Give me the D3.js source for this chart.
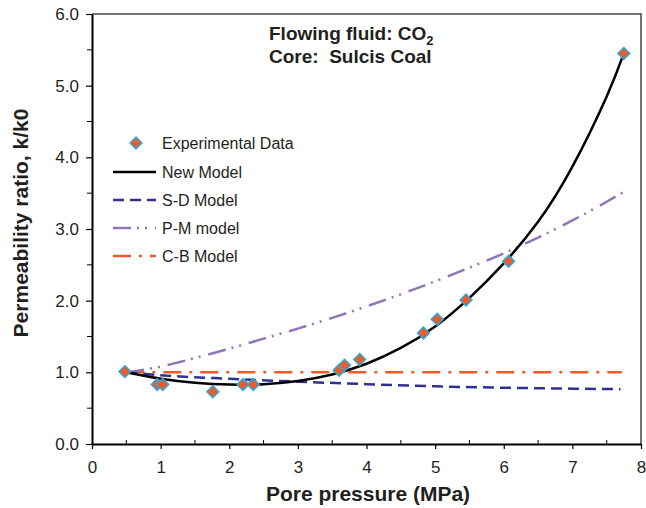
<!DOCTYPE html>
<html>
<head>
<meta charset="utf-8">
<script src="https://cdn.jsdelivr.net/npm/d3@7/dist/d3.min.js"></script>
<style>
  html, body { margin: 0; padding: 0; background: #fff; }
  svg { display: block; font-family: "Liberation Sans", Arial, sans-serif; }
</style>
</head>
<body>
<svg id="chart" width="646" height="508"></svg>
<script>
// Measured permeability ratio vs pore pressure (CO2, Sulcis coal)
const expPressure = [0.48, 0.95, 1.03, 1.76, 2.2, 2.35, 3.6, 3.68, 3.9, 4.83, 5.03, 5.45, 6.07, 7.75];
const expRatio    = [1.01, 0.83, 0.83, 0.73, 0.83, 0.83, 1.03, 1.10, 1.18, 1.55, 1.74, 2.01, 2.55, 5.45];

// Model curves, sampled along pore pressure
const newModelP = [0.5, 1.0, 1.5, 2.0, 2.5, 3.0, 3.5, 4.0, 4.5, 5.0, 5.5, 6.0, 6.5, 7.0, 7.5, 7.75];
const newModelK = [1.0, 0.91, 0.855, 0.83, 0.835, 0.88, 0.97, 1.12, 1.34, 1.64, 2.04, 2.52, 3.1, 3.87, 4.85, 5.45];

const sdModelP = [0.5, 1.0, 2.0, 3.0, 4.0, 5.0, 6.0, 7.0, 7.7];
const sdModelK = [1.0, 0.96, 0.91, 0.87, 0.835, 0.805, 0.785, 0.772, 0.765];

const pmModelP = [0.5, 1.0, 1.5, 2.0, 2.5, 3.0, 3.5, 4.0, 4.5, 5.0, 5.5, 6.0, 6.5, 7.0, 7.5, 7.75];
const pmModelK = [1.0, 1.08, 1.2, 1.33, 1.47, 1.61, 1.76, 1.92, 2.09, 2.27, 2.46, 2.66, 2.88, 3.12, 3.38, 3.52];

const cbModelP = [0.5, 7.72];
const cbModelK = [1.0, 1.0];

const xTicks = [0, 1, 2, 3, 4, 5, 6, 7, 8];
const yTicks = [0, 1, 2, 3, 4, 5, 6];
const legendLabels = ["Experimental Data", "New Model", "S-D Model", "P-M model", "C-B Model"];

const svg = d3.select("#chart");
const plotLeft = 92, plotRight = 641, plotTop = 14, plotBottom = 444;

const x = d3.scaleLinear().domain([0, 8]).range([plotLeft, plotRight]);
const y = d3.scaleLinear().domain([0, 6]).range([plotBottom, plotTop]);

const textColor = "#231f20";
const fontFamily = "Liberation Sans, Arial, sans-serif";

// Plot frame (top and right edges)
svg.append("path")
  .attr("d", `M${plotLeft},${plotTop}H${plotRight}V${plotBottom}`)
  .attr("fill", "none").attr("stroke", "#444").attr("stroke-width", 1.5);

// X axis
const xAxis = svg.append("g").attr("transform", `translate(0,${plotBottom})`);
xAxis.call(d3.axisBottom(x).tickValues(xTicks).tickFormat(d3.format("d")).tickSize(5).tickSizeOuter(0))
  .call(g => g.select(".domain").attr("stroke", "#000").attr("stroke-width", 2))
  .call(g => g.selectAll(".tick line").attr("stroke", "#000").attr("stroke-width", 1.2))
  .call(g => g.selectAll(".tick text").attr("font-size", 17).attr("fill", textColor)
    .attr("font-family", fontFamily).attr("y", 29).attr("dy", 0));
xAxis.selectAll(".minor").data(d3.range(0.5, 8, 1)).enter().append("line")
  .attr("x1", d => x(d)).attr("x2", d => x(d)).attr("y1", 0).attr("y2", -4)
  .attr("stroke", "#000").attr("stroke-width", 1);

// Y axis
const yAxis = svg.append("g").attr("transform", `translate(${plotLeft},0)`);
yAxis.call(d3.axisLeft(y).tickValues(yTicks).tickFormat(d3.format(".1f")).tickSize(6).tickSizeOuter(0))
  .call(g => g.select(".domain").attr("stroke", "#000").attr("stroke-width", 2))
  .call(g => g.selectAll(".tick line").attr("stroke", "#000").attr("stroke-width", 1.2))
  .call(g => g.selectAll(".tick text").attr("font-size", 17).attr("fill", textColor)
    .attr("font-family", fontFamily).attr("x", -13));
yAxis.selectAll(".minor").data(d3.range(0.5, 6, 1)).enter().append("line")
  .attr("x1", 0).attr("x2", -5).attr("y1", d => y(d)).attr("y2", d => y(d))
  .attr("stroke", "#000").attr("stroke-width", 1);

// Axis titles
svg.append("text").attr("x", 368).attr("y", 501).attr("text-anchor", "middle")
  .attr("font-size", 21).attr("font-weight", "bold").attr("fill", textColor)
  .text("Pore pressure (MPa)");
svg.append("text").attr("transform", "translate(28,223) rotate(-90)").attr("text-anchor", "middle")
  .attr("font-size", 21).attr("font-weight", "bold").attr("fill", textColor)
  .text("Permeability ratio, k/k0");

// Annotation
const note = svg.append("g").attr("font-size", 19).attr("font-weight", "bold").attr("fill", textColor);
const t1 = note.append("text").attr("x", 269).attr("y", 40);
t1.append("tspan").text("Flowing fluid: CO");
t1.append("tspan").attr("font-size", 13).attr("dy", 5).text("2");
note.append("text").attr("x", 269).attr("y", 63).text("Core:\u00a0 Sulcis Coal");

// Series styles
const series = [
  { p: newModelP, k: newModelK, color: "#000000", dash: null, curve: d3.curveNatural },
  { p: sdModelP, k: sdModelK, color: "#2e3192", dash: "11,6", curve: d3.curveMonotoneX },
  { p: pmModelP, k: pmModelK, color: "#8f76bb", dash: "18,6,2,6,2,8", curve: d3.curveMonotoneX },
  { p: cbModelP, k: cbModelK, color: "#f15a24", dash: "18,8,3,8", curve: d3.curveLinear }
];

const plot = svg.append("g");
series.slice().reverse().forEach(s => {
  const line = d3.line().x((d, i) => x(s.p[i])).y((d, i) => y(s.k[i])).curve(s.curve);
  plot.append("path").datum(s.p).attr("d", line)
    .attr("fill", "none").attr("stroke", s.color).attr("stroke-width", 2.5)
    .attr("stroke-dasharray", s.dash).attr("stroke-linecap", "butt");
});

// Experimental points as diamonds
const diamond = d3.symbol().type(d3.symbolSquare).size(70);
plot.selectAll(".pt").data(expPressure).enter().append("path")
  .attr("d", diamond)
  .attr("transform", (d, i) => `translate(${x(d)},${y(expRatio[i])}) rotate(45)`)
  .attr("fill", "#f15a24").attr("stroke", "#27a9e1").attr("stroke-width", 1.5);

// Legend
const legend = svg.append("g").attr("font-size", 16).attr("fill", textColor);
const legY = [143, 172, 200, 228, 256];
legend.append("path").attr("d", diamond)
  .attr("transform", `translate(136,${legY[0]}) rotate(45)`)
  .attr("fill", "#f15a24").attr("stroke", "#27a9e1").attr("stroke-width", 1.5);
series.forEach((s, i) => {
  legend.append("line").attr("x1", 113).attr("x2", 156)
    .attr("y1", legY[i + 1]).attr("y2", legY[i + 1])
    .attr("stroke", s.color).attr("stroke-width", 2.5).attr("stroke-dasharray", s.dash);
});
legendLabels.forEach((t, i) => {
  legend.append("text").attr("x", 162).attr("y", legY[i]).attr("dy", "0.35em").text(t);
});
</script>
</body>
</html>
